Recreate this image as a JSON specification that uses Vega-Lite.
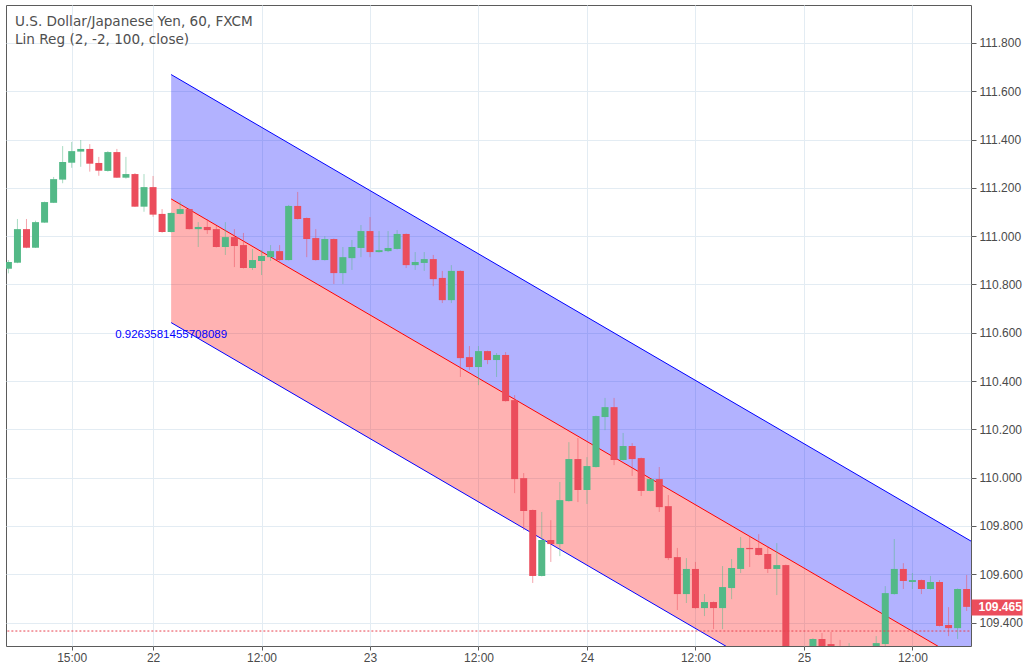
{
  "$schema": "https://vega.github.io/schema/vega-lite/v6.json",
  "width": 965,
  "height": 641,
  "autosize": {"type": "none"},
  "padding": {"left": 6, "top": 5, "right": 58, "bottom": 26},
  "background": "white",
  "config": {"view": {"stroke": "#5b5b5b", "strokeWidth": 1}, "font": "Liberation Sans"},
  "title": {
    "text": "U.S. Dollar/Japanese Yen, 60, FXCM",
    "subtitle": "Lin Reg (2, -2, 100, close)",
    "anchor": "start", "frame": "group", "orient": "top", "offset": -42, "dx": 9,
    "font": "DejaVu Sans", "fontSize": 13.6, "fontWeight": "normal", "color": "#4f4f4f",
    "subtitleFont": "DejaVu Sans", "subtitleFontSize": 13.6, "subtitleColor": "#4f4f4f", "subtitlePadding": 5
  },
  "datasets": {
    "channel": [
      {"t": "2017-03-22T02:00:00Z", "upper": 111.669, "mid": 111.154, "lower": 110.642},
      {"t": "2017-03-25T18:30:00Z", "upper": 109.737, "mid": 109.222, "lower": 108.710}
    ],
    "pearson": [{"t": "2017-03-22T02:00:00Z", "price": 110.59, "label": "0.9263581455708089"}],
    "marker": [{"t": "2017-03-21T07:00:00Z", "t2": "2017-03-25T19:00:00Z", "price": 109.365}],
    "candles": [
      {"t": "2017-03-21T08:00:00Z", "open": 110.865, "high": 110.901, "low": 110.846, "close": 110.893},
      {"t": "2017-03-21T09:00:00Z", "open": 110.890, "high": 111.071, "low": 110.888, "close": 111.029},
      {"t": "2017-03-21T10:00:00Z", "open": 111.029, "high": 111.071, "low": 110.950, "close": 110.952},
      {"t": "2017-03-21T11:00:00Z", "open": 110.952, "high": 111.064, "low": 110.951, "close": 111.058},
      {"t": "2017-03-21T12:00:00Z", "open": 111.056, "high": 111.143, "low": 111.055, "close": 111.141},
      {"t": "2017-03-21T13:00:00Z", "open": 111.138, "high": 111.245, "low": 111.137, "close": 111.236},
      {"t": "2017-03-21T14:00:00Z", "open": 111.234, "high": 111.373, "low": 111.219, "close": 111.307},
      {"t": "2017-03-21T15:00:00Z", "open": 111.304, "high": 111.390, "low": 111.283, "close": 111.352},
      {"t": "2017-03-21T16:00:00Z", "open": 111.350, "high": 111.398, "low": 111.287, "close": 111.361},
      {"t": "2017-03-21T17:00:00Z", "open": 111.361, "high": 111.381, "low": 111.267, "close": 111.300},
      {"t": "2017-03-21T18:00:00Z", "open": 111.303, "high": 111.328, "low": 111.250, "close": 111.271},
      {"t": "2017-03-21T19:00:00Z", "open": 111.270, "high": 111.352, "low": 111.267, "close": 111.348},
      {"t": "2017-03-21T20:00:00Z", "open": 111.348, "high": 111.361, "low": 111.241, "close": 111.242},
      {"t": "2017-03-21T21:00:00Z", "open": 111.242, "high": 111.328, "low": 111.238, "close": 111.257},
      {"t": "2017-03-21T22:00:00Z", "open": 111.257, "high": 111.261, "low": 111.121, "close": 111.122},
      {"t": "2017-03-21T23:00:00Z", "open": 111.122, "high": 111.257, "low": 111.101, "close": 111.203},
      {"t": "2017-03-22T00:00:00Z", "open": 111.203, "high": 111.249, "low": 111.080, "close": 111.089},
      {"t": "2017-03-22T01:00:00Z", "open": 111.092, "high": 111.112, "low": 111.014, "close": 111.017},
      {"t": "2017-03-22T02:00:00Z", "open": 111.017, "high": 111.098, "low": 111.015, "close": 111.096},
      {"t": "2017-03-22T03:00:00Z", "open": 111.092, "high": 111.143, "low": 111.090, "close": 111.112},
      {"t": "2017-03-22T04:00:00Z", "open": 111.112, "high": 111.114, "low": 111.028, "close": 111.029},
      {"t": "2017-03-22T05:00:00Z", "open": 111.029, "high": 111.058, "low": 110.955, "close": 111.038},
      {"t": "2017-03-22T06:00:00Z", "open": 111.038, "high": 111.071, "low": 111.009, "close": 111.025},
      {"t": "2017-03-22T07:00:00Z", "open": 111.029, "high": 111.042, "low": 110.953, "close": 110.955},
      {"t": "2017-03-22T08:00:00Z", "open": 110.955, "high": 111.058, "low": 110.922, "close": 110.996},
      {"t": "2017-03-22T09:00:00Z", "open": 110.996, "high": 111.029, "low": 110.872, "close": 110.959},
      {"t": "2017-03-22T10:00:00Z", "open": 110.963, "high": 111.013, "low": 110.866, "close": 110.868},
      {"t": "2017-03-22T11:00:00Z", "open": 110.868, "high": 110.947, "low": 110.860, "close": 110.901},
      {"t": "2017-03-22T12:00:00Z", "open": 110.897, "high": 110.942, "low": 110.839, "close": 110.918},
      {"t": "2017-03-22T13:00:00Z", "open": 110.913, "high": 110.963, "low": 110.897, "close": 110.938},
      {"t": "2017-03-22T14:00:00Z", "open": 110.938, "high": 110.963, "low": 110.897, "close": 110.901},
      {"t": "2017-03-22T15:00:00Z", "open": 110.901, "high": 111.129, "low": 110.899, "close": 111.125},
      {"t": "2017-03-22T16:00:00Z", "open": 111.125, "high": 111.183, "low": 111.069, "close": 111.071},
      {"t": "2017-03-22T17:00:00Z", "open": 111.075, "high": 111.077, "low": 110.913, "close": 110.988},
      {"t": "2017-03-22T18:00:00Z", "open": 110.992, "high": 111.029, "low": 110.899, "close": 110.901},
      {"t": "2017-03-22T19:00:00Z", "open": 110.901, "high": 111.000, "low": 110.899, "close": 110.988},
      {"t": "2017-03-22T20:00:00Z", "open": 110.988, "high": 110.990, "low": 110.802, "close": 110.847},
      {"t": "2017-03-22T21:00:00Z", "open": 110.847, "high": 110.955, "low": 110.802, "close": 110.913},
      {"t": "2017-03-22T22:00:00Z", "open": 110.909, "high": 110.984, "low": 110.860, "close": 110.955},
      {"t": "2017-03-22T23:00:00Z", "open": 110.951, "high": 111.046, "low": 110.913, "close": 111.021},
      {"t": "2017-03-23T00:00:00Z", "open": 111.021, "high": 111.079, "low": 110.913, "close": 110.934},
      {"t": "2017-03-23T01:00:00Z", "open": 110.934, "high": 111.021, "low": 110.932, "close": 110.942},
      {"t": "2017-03-23T02:00:00Z", "open": 110.938, "high": 111.021, "low": 110.934, "close": 110.951},
      {"t": "2017-03-23T03:00:00Z", "open": 110.947, "high": 111.025, "low": 110.945, "close": 111.009},
      {"t": "2017-03-23T04:00:00Z", "open": 111.009, "high": 111.011, "low": 110.868, "close": 110.880},
      {"t": "2017-03-23T05:00:00Z", "open": 110.880, "high": 110.934, "low": 110.860, "close": 110.893},
      {"t": "2017-03-23T06:00:00Z", "open": 110.889, "high": 110.934, "low": 110.856, "close": 110.905},
      {"t": "2017-03-23T07:00:00Z", "open": 110.905, "high": 110.922, "low": 110.793, "close": 110.822},
      {"t": "2017-03-23T08:00:00Z", "open": 110.827, "high": 110.856, "low": 110.723, "close": 110.735},
      {"t": "2017-03-23T09:00:00Z", "open": 110.735, "high": 110.880, "low": 110.723, "close": 110.856},
      {"t": "2017-03-23T10:00:00Z", "open": 110.856, "high": 110.858, "low": 110.417, "close": 110.495},
      {"t": "2017-03-23T11:00:00Z", "open": 110.499, "high": 110.545, "low": 110.446, "close": 110.458},
      {"t": "2017-03-23T12:00:00Z", "open": 110.458, "high": 110.545, "low": 110.383, "close": 110.524},
      {"t": "2017-03-23T13:00:00Z", "open": 110.524, "high": 110.526, "low": 110.470, "close": 110.487},
      {"t": "2017-03-23T14:00:00Z", "open": 110.487, "high": 110.516, "low": 110.417, "close": 110.508},
      {"t": "2017-03-23T15:00:00Z", "open": 110.508, "high": 110.520, "low": 110.315, "close": 110.317},
      {"t": "2017-03-23T16:00:00Z", "open": 110.321, "high": 110.342, "low": 109.936, "close": 109.994},
      {"t": "2017-03-23T17:00:00Z", "open": 109.998, "high": 110.019, "low": 109.783, "close": 109.862},
      {"t": "2017-03-23T18:00:00Z", "open": 109.866, "high": 109.868, "low": 109.564, "close": 109.593},
      {"t": "2017-03-23T19:00:00Z", "open": 109.593, "high": 109.858, "low": 109.591, "close": 109.742},
      {"t": "2017-03-23T20:00:00Z", "open": 109.742, "high": 109.824, "low": 109.651, "close": 109.725},
      {"t": "2017-03-23T21:00:00Z", "open": 109.725, "high": 109.982, "low": 109.675, "close": 109.907},
      {"t": "2017-03-23T22:00:00Z", "open": 109.903, "high": 110.147, "low": 109.901, "close": 110.077},
      {"t": "2017-03-23T23:00:00Z", "open": 110.077, "high": 110.164, "low": 109.899, "close": 109.949},
      {"t": "2017-03-24T00:00:00Z", "open": 109.949, "high": 110.085, "low": 109.891, "close": 110.048},
      {"t": "2017-03-24T01:00:00Z", "open": 110.044, "high": 110.257, "low": 110.042, "close": 110.255},
      {"t": "2017-03-24T02:00:00Z", "open": 110.251, "high": 110.330, "low": 110.197, "close": 110.292},
      {"t": "2017-03-24T03:00:00Z", "open": 110.292, "high": 110.330, "low": 110.052, "close": 110.073},
      {"t": "2017-03-24T04:00:00Z", "open": 110.073, "high": 110.185, "low": 110.071, "close": 110.131},
      {"t": "2017-03-24T05:00:00Z", "open": 110.131, "high": 110.143, "low": 110.007, "close": 110.077},
      {"t": "2017-03-24T06:00:00Z", "open": 110.081, "high": 110.083, "low": 109.924, "close": 109.945},
      {"t": "2017-03-24T07:00:00Z", "open": 109.945, "high": 109.996, "low": 109.943, "close": 109.994},
      {"t": "2017-03-24T08:00:00Z", "open": 109.994, "high": 110.044, "low": 109.858, "close": 109.878},
      {"t": "2017-03-24T09:00:00Z", "open": 109.882, "high": 109.928, "low": 109.659, "close": 109.667},
      {"t": "2017-03-24T10:00:00Z", "open": 109.671, "high": 109.709, "low": 109.452, "close": 109.518},
      {"t": "2017-03-24T11:00:00Z", "open": 109.518, "high": 109.667, "low": 109.481, "close": 109.622},
      {"t": "2017-03-24T12:00:00Z", "open": 109.622, "high": 109.651, "low": 109.458, "close": 109.460},
      {"t": "2017-03-24T13:00:00Z", "open": 109.460, "high": 109.518, "low": 109.427, "close": 109.485},
      {"t": "2017-03-24T14:00:00Z", "open": 109.485, "high": 109.487, "low": 109.373, "close": 109.460},
      {"t": "2017-03-24T15:00:00Z", "open": 109.460, "high": 109.634, "low": 109.373, "close": 109.547},
      {"t": "2017-03-24T16:00:00Z", "open": 109.543, "high": 109.663, "low": 109.497, "close": 109.626},
      {"t": "2017-03-24T17:00:00Z", "open": 109.622, "high": 109.754, "low": 109.605, "close": 109.709},
      {"t": "2017-03-24T18:00:00Z", "open": 109.709, "high": 109.754, "low": 109.630, "close": 109.704},
      {"t": "2017-03-24T19:00:00Z", "open": 109.709, "high": 109.766, "low": 109.678, "close": 109.680},
      {"t": "2017-03-24T20:00:00Z", "open": 109.684, "high": 109.717, "low": 109.605, "close": 109.622},
      {"t": "2017-03-24T21:00:00Z", "open": 109.622, "high": 109.729, "low": 109.514, "close": 109.638},
      {"t": "2017-03-24T22:00:00Z", "open": 109.638, "high": 109.640, "low": 109.160, "close": 109.180},
      {"t": "2017-03-24T23:00:00Z", "open": 109.180, "high": 109.260, "low": 109.150, "close": 109.200},
      {"t": "2017-03-25T00:00:00Z", "open": 109.200, "high": 109.280, "low": 109.170, "close": 109.240},
      {"t": "2017-03-25T01:00:00Z", "open": 109.250, "high": 109.335, "low": 109.230, "close": 109.332},
      {"t": "2017-03-25T02:00:00Z", "open": 109.332, "high": 109.357, "low": 109.250, "close": 109.270},
      {"t": "2017-03-25T03:00:00Z", "open": 109.311, "high": 109.361, "low": 109.260, "close": 109.280},
      {"t": "2017-03-25T04:00:00Z", "open": 109.290, "high": 109.328, "low": 109.240, "close": 109.270},
      {"t": "2017-03-25T05:00:00Z", "open": 109.270, "high": 109.315, "low": 109.250, "close": 109.290},
      {"t": "2017-03-25T06:00:00Z", "open": 109.290, "high": 109.300, "low": 109.240, "close": 109.260},
      {"t": "2017-03-25T07:00:00Z", "open": 109.260, "high": 109.300, "low": 109.240, "close": 109.290},
      {"t": "2017-03-25T08:00:00Z", "open": 109.290, "high": 109.344, "low": 109.270, "close": 109.315},
      {"t": "2017-03-25T09:00:00Z", "open": 109.311, "high": 109.551, "low": 109.290, "close": 109.522},
      {"t": "2017-03-25T10:00:00Z", "open": 109.518, "high": 109.746, "low": 109.516, "close": 109.622},
      {"t": "2017-03-25T11:00:00Z", "open": 109.622, "high": 109.646, "low": 109.539, "close": 109.572},
      {"t": "2017-03-25T12:00:00Z", "open": 109.568, "high": 109.605, "low": 109.539, "close": 109.576},
      {"t": "2017-03-25T13:00:00Z", "open": 109.576, "high": 109.578, "low": 109.518, "close": 109.539},
      {"t": "2017-03-25T14:00:00Z", "open": 109.539, "high": 109.593, "low": 109.537, "close": 109.568},
      {"t": "2017-03-25T15:00:00Z", "open": 109.568, "high": 109.576, "low": 109.384, "close": 109.386},
      {"t": "2017-03-25T16:00:00Z", "open": 109.390, "high": 109.464, "low": 109.344, "close": 109.377},
      {"t": "2017-03-25T17:00:00Z", "open": 109.377, "high": 109.541, "low": 109.332, "close": 109.539},
      {"t": "2017-03-25T18:00:00Z", "open": 109.539, "high": 109.597, "low": 109.448, "close": 109.465}
    ]
  },
  "encoding": {
    "x": {"field": "t", "type": "temporal", "title": null,
      "scale": {"type": "utc", "nice": false, "padding": 0, "domain": [{"year": 2017, "month": 3, "date": 21, "hours": 7, "minutes": 44, "utc": true}, {"year": 2017, "month": 3, "date": 25, "hours": 18, "minutes": 29, "utc": true}]},
      "axis": {
        "orient": "bottom",
        "values": [
          {"year": 2017, "month": 3, "date": 21, "hours": 15, "utc": true},
          {"year": 2017, "month": 3, "date": 22, "hours": 0, "utc": true},
          {"year": 2017, "month": 3, "date": 22, "hours": 12, "utc": true},
          {"year": 2017, "month": 3, "date": 23, "hours": 0, "utc": true},
          {"year": 2017, "month": 3, "date": 23, "hours": 12, "utc": true},
          {"year": 2017, "month": 3, "date": 24, "hours": 0, "utc": true},
          {"year": 2017, "month": 3, "date": 24, "hours": 12, "utc": true},
          {"year": 2017, "month": 3, "date": 25, "hours": 0, "utc": true},
          {"year": 2017, "month": 3, "date": 25, "hours": 12, "utc": true}
        ],
        "labelExpr": "utcFormat(datum.value, '%H') === '00' ? utcFormat(datum.value, '%d') : utcFormat(datum.value, '%H:%M')",
        "labelFont": "Liberation Sans", "labelFontSize": 12, "labelColor": "#4a4a4a",
        "tickSize": 4, "tickColor": "#5b5b5b", "labelPadding": 2,
        "gridColor": "#e3ecf3", "domain": false, "labelOverlap": false, "labelFlush": false, "labelBound": false
      }
    }
  },
  "layer": [
    {
      "data": {"name": "channel"},
      "mark": {"type": "area", "color": "#0000ff", "opacity": 0.3, "clip": true},
      "encoding": {
        "y": {"field": "upper", "type": "quantitative", "title": null,
          "scale": {"domain": [109.303, 111.957], "nice": false, "zero": false, "padding": 0},
          "axis": {
            "orient": "right",
            "values": [109.4, 109.465, 109.6, 109.8, 110, 110.2, 110.4, 110.6, 110.8, 111, 111.2, 111.4, 111.6, 111.8],
            "format": ".3f",
            "labelFont": "Liberation Sans", "labelFontSize": 12,
            "labelColor": {"condition": {"test": "datum.value == 109.465", "value": "#ffffff"}, "value": "#4a4a4a"},
            "labelFontWeight": {"condition": {"test": "datum.value == 109.465", "value": "bold"}, "value": "normal"},
            "tickSize": {"condition": {"test": "datum.value == 109.465", "value": 51}, "value": 5},
            "tickWidth": {"condition": {"test": "datum.value == 109.465", "value": 16}, "value": 1},
            "tickColor": {"condition": {"test": "datum.value == 109.465", "value": "#eb4d5c"}, "value": "#5b5b5b"},
            "labelPadding": {"condition": {"test": "datum.value == 109.465", "value": -44}, "value": 3},
            "gridColor": "#e3ecf3",
            "gridOpacity": {"condition": {"test": "datum.value == 109.465", "value": 0}, "value": 1},
            "domain": false, "labelOverlap": false, "labelFlush": false, "labelBound": false
          }
        },
        "y2": {"field": "mid"}
      }
    },
    {
      "data": {"name": "channel"},
      "mark": {"type": "area", "color": "#ff0000", "opacity": 0.3, "clip": true},
      "encoding": {
        "y": {"field": "mid", "type": "quantitative", "title": null},
        "y2": {"field": "lower"}
      }
    },
    {
      "data": {"name": "channel"},
      "mark": {"type": "line", "color": "#0000ff", "strokeWidth": 1, "clip": true},
      "encoding": {
        "y": {"field": "upper", "type": "quantitative", "title": null}
      }
    },
    {
      "data": {"name": "channel"},
      "mark": {"type": "line", "color": "#ff0000", "strokeWidth": 1, "clip": true},
      "encoding": {
        "y": {"field": "mid", "type": "quantitative", "title": null}
      }
    },
    {
      "data": {"name": "channel"},
      "mark": {"type": "line", "color": "#0000ff", "strokeWidth": 1, "clip": true},
      "encoding": {
        "y": {"field": "lower", "type": "quantitative", "title": null}
      }
    },
    {
      "data": {"name": "candles"},
      "mark": {"type": "rule", "strokeWidth": 1, "opacity": 0.5, "clip": true},
      "encoding": {
        "y": {"field": "low", "type": "quantitative", "title": null},
        "y2": {"field": "high"},
        "color": {"condition": {"test": "datum.close >= datum.open", "value": "#53b987"}, "value": "#eb4d5c"}
      }
    },
    {
      "data": {"name": "candles"},
      "mark": {"type": "bar", "size": 7, "clip": true},
      "encoding": {
        "y": {"field": "open", "type": "quantitative", "title": null},
        "y2": {"field": "close"},
        "color": {"condition": {"test": "datum.close >= datum.open", "value": "#53b987"}, "value": "#eb4d5c"}
      }
    },
    {
      "data": {"name": "pearson"},
      "mark": {"type": "text", "color": "#0000ff", "font": "Liberation Sans", "fontSize": 11.5, "align": "center", "baseline": "middle"},
      "encoding": {
        "y": {"field": "price", "type": "quantitative", "title": null},
        "text": {"field": "label"}
      }
    },
    {
      "data": {"name": "marker"},
      "mark": {"type": "rule", "color": "#e8414f", "strokeWidth": 1, "strokeDash": [2, 2], "clip": true},
      "encoding": {
        "x2": {"field": "t2"},
        "y": {"field": "price", "type": "quantitative", "title": null}
      }
    }
  ]
}
